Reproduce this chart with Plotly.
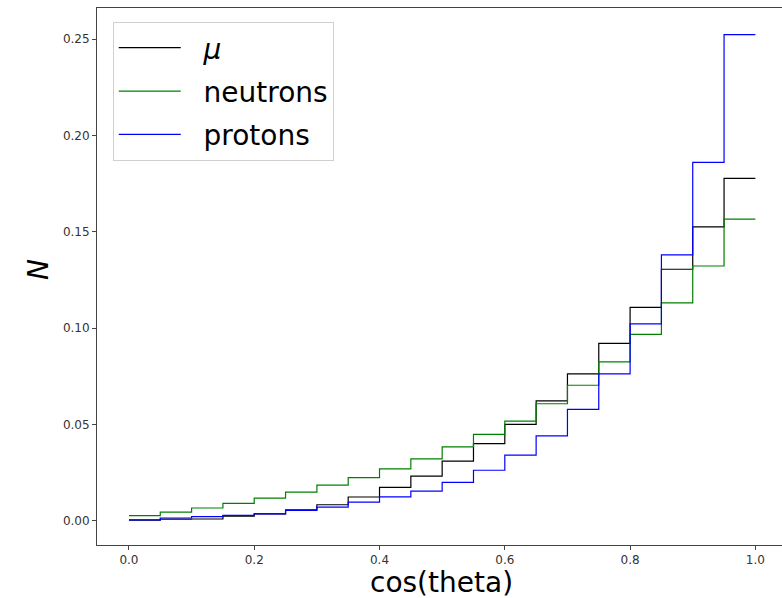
import plotly.graph_objects as go

bin_edges = [0.0, 0.05, 0.1, 0.15, 0.2, 0.25, 0.3, 0.35, 0.4, 0.45, 0.5,
             0.55, 0.6, 0.65, 0.7, 0.75, 0.8, 0.85, 0.9, 0.95, 1.0]
mu = [0.0003, 0.0008, 0.0009, 0.0024, 0.0036, 0.0057, 0.0083, 0.0123, 0.0173, 0.0231,
      0.0309, 0.0400, 0.0500, 0.0622, 0.0762, 0.0920, 0.1107, 0.1305, 0.1525, 0.1777]
neutrons = [0.0026, 0.0045, 0.0066, 0.0090, 0.0117, 0.0148, 0.0185, 0.0224, 0.0269, 0.0321,
            0.0383, 0.0448, 0.0517, 0.0607, 0.0703, 0.0824, 0.0967, 0.1131, 0.1322, 0.1565]
protons = [0.0004, 0.0014, 0.0021, 0.0028, 0.0036, 0.0054, 0.0071, 0.0097, 0.0124, 0.0154,
           0.0199, 0.0262, 0.0340, 0.0440, 0.0578, 0.0762, 0.1022, 0.1380, 0.1860, 0.2523]
names = ["\u00a0\u00a0<i>μ</i>", "\u00a0\u00a0neutrons", "\u00a0\u00a0protons"]
colors = ["black", "green", "blue"]
x_ticks = [0.0, 0.2, 0.4, 0.6, 0.8, 1.0]
y_ticks = [0.00, 0.05, 0.10, 0.15, 0.20, 0.25]

fig = go.Figure()
for i, (vals, name, col) in enumerate(zip([mu, neutrons, protons], names, colors)):
    fig.add_trace(go.Scatter(
        x=bin_edges, y=list(vals) + [vals[-1]], mode="lines",
        line=dict(shape="hv", color=col, width=1.2),
        name=name, legendgroup=f"g{i}",
    ))

W, H = 782, 598
L, R, T, B = 97, 0, 8, 53
pw, ph = W - L - R, H - T - B


def px_to_paper(x, y):
    return (x - L) / pw, (H - B - y) / ph


font = "DejaVu Sans, sans-serif"
xt, yt = px_to_paper(441, 582)
xn, yn = px_to_paper(38, 270)
fig.update_layout(
    width=W, height=H, autosize=False,
    margin=dict(l=L, r=R, t=T, b=B, autoexpand=False),
    plot_bgcolor="white", paper_bgcolor="white",
    font=dict(family=font, color="#222"),
    showlegend=True,
    legend=dict(
        x=0.023, y=0.974, xanchor="left", yanchor="top",
        bgcolor="rgba(255,255,255,0.8)", bordercolor="#d0d0d0", borderwidth=1,
        font=dict(size=28, family=font, color="black"),
        traceorder="grouped", tracegroupgap=4, itemwidth=62,
    ),
    xaxis=dict(
        range=[-0.051, 1.0425], tickvals=x_ticks, ticktext=[f"{v:.1f}" for v in x_ticks],
        showgrid=False, zeroline=False, showline=True, linecolor="#444", linewidth=1,
        mirror=True, ticks="outside", ticklen=4, tickcolor="#444", automargin=False,
        tickfont=dict(size=12, family=font, color="#333"),
    ),
    yaxis=dict(
        range=[-0.0126, 0.2661], tickvals=y_ticks, ticktext=[f"{v:.2f}" for v in y_ticks],
        showgrid=False, zeroline=False, showline=True, linecolor="#444", linewidth=1,
        mirror=False, ticks="outside", ticklen=4, tickcolor="#444", automargin=False,
        tickfont=dict(size=12, family=font, color="#333"),
    ),
    annotations=[
        dict(text="cos(theta)", x=xt, y=yt, xref="paper", yref="paper",
             xanchor="center", yanchor="middle",
             showarrow=False, font=dict(size=28, family=font, color="black")),
        dict(text="<i>N</i>", x=xn, y=yn, xref="paper", yref="paper", textangle=-90,
             xanchor="center", yanchor="middle",
             showarrow=False, font=dict(size=28, family=font, color="black")),
    ],
)
fig.write_html("out.html", config={"displayModeBar": False},
               post_script="document.body.style.margin='0';document.body.style.overflow='hidden';")
